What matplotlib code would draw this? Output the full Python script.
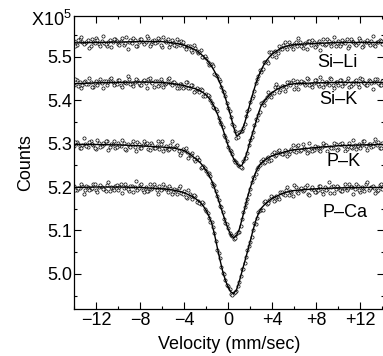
import numpy as np
import matplotlib
matplotlib.use("Agg")
import matplotlib.pyplot as plt
from matplotlib.ticker import MultipleLocator

plt.rcParams["font.family"] = ["Liberation Sans", "DejaVu Sans"]
plt.rcParams["mathtext.fontset"] = "custom"
plt.rcParams["mathtext.rm"] = "Liberation Sans"

# velocity channels (mm/sec); the two folded halves sit 0.125 mm/sec apart
vel_a = np.arange(113) * 0.25 - 14.0
vel_b = np.arange(112) * 0.25 - 13.875
# x positions of the fitted curves
fit_x = np.concatenate([[-14, -12, -10, -8, -6], np.arange(-5, 6.01, 0.25), [8, 10, 12, 14]])

# measured counts (x10^5), first half
si_li_a = [5.536, 5.528, 5.541, 5.534, 5.531, 5.539, 5.526, 5.535, 5.543, 5.530, 5.537, 5.532, 5.524,
           5.539, 5.534, 5.541, 5.530, 5.536, 5.528, 5.545, 5.535, 5.531, 5.538, 5.526, 5.540, 5.535,
           5.533, 5.544, 5.530, 5.538, 5.534, 5.540, 5.523, 5.536, 5.541, 5.530, 5.533, 5.525, 5.534,
           5.536, 5.525, 5.524, 5.525, 5.512, 5.521, 5.509, 5.515, 5.500, 5.497, 5.482, 5.484, 5.461,
           5.456, 5.444, 5.422, 5.410, 5.381, 5.362, 5.341, 5.314, 5.327, 5.329, 5.345, 5.374, 5.396,
           5.410, 5.440, 5.456, 5.465, 5.488, 5.490, 5.510, 5.503, 5.514, 5.508, 5.519, 5.527, 5.523,
           5.534, 5.524, 5.530, 5.524, 5.534, 5.520, 5.531, 5.537, 5.528, 5.533, 5.525, 5.536, 5.530,
           5.528, 5.541, 5.531, 5.534, 5.525, 5.537, 5.529, 5.533, 5.540, 5.526, 5.536, 5.530, 5.532,
           5.538, 5.524, 5.535, 5.531, 5.537, 5.528, 5.534, 5.539, 5.529]
si_k_a = [5.436, 5.446, 5.441, 5.435, 5.444, 5.438, 5.442, 5.431, 5.445, 5.441, 5.439, 5.445, 5.435,
          5.449, 5.442, 5.438, 5.446, 5.434, 5.443, 5.440, 5.450, 5.437, 5.441, 5.447, 5.436, 5.444,
          5.439, 5.448, 5.442, 5.431, 5.445, 5.435, 5.443, 5.437, 5.448, 5.439, 5.443, 5.437, 5.429,
          5.438, 5.430, 5.442, 5.428, 5.434, 5.422, 5.425, 5.425, 5.409, 5.414, 5.410, 5.393, 5.383,
          5.376, 5.349, 5.338, 5.315, 5.292, 5.284, 5.263, 5.258, 5.249, 5.244, 5.268, 5.279, 5.308,
          5.326, 5.356, 5.367, 5.393, 5.390, 5.408, 5.412, 5.416, 5.430, 5.430, 5.423, 5.433, 5.430,
          5.443, 5.439, 5.426, 5.445, 5.439, 5.443, 5.435, 5.449, 5.438, 5.440, 5.446, 5.432, 5.444,
          5.437, 5.441, 5.451, 5.434, 5.442, 5.436, 5.447, 5.440, 5.445, 5.431, 5.440, 5.445, 5.438,
          5.451, 5.443, 5.434, 5.447, 5.439, 5.442, 5.449, 5.436, 5.444]
p_k_a = [5.295, 5.303, 5.290, 5.297, 5.300, 5.292, 5.305, 5.296, 5.288, 5.301, 5.294, 5.299, 5.307,
         5.293, 5.298, 5.291, 5.302, 5.294, 5.302, 5.285, 5.295, 5.299, 5.292, 5.304, 5.290, 5.296,
         5.298, 5.287, 5.301, 5.290, 5.294, 5.288, 5.305, 5.291, 5.286, 5.297, 5.289, 5.295, 5.283,
         5.278, 5.286, 5.280, 5.273, 5.278, 5.261, 5.264, 5.243, 5.248, 5.236, 5.232, 5.209, 5.204,
         5.179, 5.156, 5.142, 5.116, 5.106, 5.089, 5.080, 5.092, 5.096, 5.126, 5.153, 5.172, 5.196,
         5.223, 5.231, 5.245, 5.260, 5.255, 5.267, 5.259, 5.276, 5.271, 5.283, 5.278, 5.275, 5.283,
         5.275, 5.288, 5.284, 5.294, 5.284, 5.298, 5.287, 5.281, 5.290, 5.285, 5.293, 5.286, 5.292,
         5.296, 5.283, 5.293, 5.290, 5.299, 5.287, 5.298, 5.294, 5.287, 5.301, 5.291, 5.297, 5.295,
         5.289, 5.306, 5.295, 5.299, 5.293, 5.302, 5.296, 5.291, 5.301]
p_ca_a = [5.202, 5.192, 5.197, 5.203, 5.194, 5.200, 5.196, 5.207, 5.193, 5.199, 5.201, 5.195, 5.205,
          5.191, 5.198, 5.202, 5.194, 5.206, 5.197, 5.200, 5.190, 5.203, 5.199, 5.193, 5.204, 5.194,
          5.199, 5.190, 5.196, 5.207, 5.193, 5.203, 5.195, 5.200, 5.189, 5.198, 5.188, 5.192, 5.197,
          5.186, 5.191, 5.174, 5.183, 5.172, 5.179, 5.168, 5.160, 5.164, 5.144, 5.128, 5.120, 5.093,
          5.056, 5.037, 5.003, 4.985, 4.973, 4.953, 4.957, 4.960, 4.981, 5.011, 5.024, 5.055, 5.073,
          5.101, 5.114, 5.142, 5.146, 5.165, 5.161, 5.169, 5.176, 5.169, 5.176, 5.189, 5.185, 5.192,
          5.182, 5.189, 5.204, 5.189, 5.195, 5.191, 5.199, 5.185, 5.196, 5.194, 5.188, 5.202, 5.190,
          5.200, 5.196, 5.186, 5.203, 5.195, 5.201, 5.190, 5.197, 5.192, 5.206, 5.200, 5.195, 5.202,
          5.189, 5.197, 5.206, 5.193, 5.201, 5.198, 5.191, 5.204, 5.196]

# measured counts (x10^5), second half
si_li_b = [5.524, 5.539, 5.545, 5.529, 5.535, 5.520, 5.541, 5.532, 5.538, 5.526, 5.547, 5.530, 5.533,
           5.523, 5.541, 5.537, 5.528, 5.544, 5.532, 5.519, 5.538, 5.543, 5.526, 5.535, 5.540, 5.530,
           5.548, 5.525, 5.537, 5.532, 5.543, 5.528, 5.546, 5.534, 5.522, 5.539, 5.528, 5.540, 5.528,
           5.535, 5.518, 5.526, 5.515, 5.528, 5.513, 5.512, 5.499, 5.502, 5.489, 5.484, 5.478, 5.458,
           5.449, 5.430, 5.418, 5.393, 5.375, 5.346, 5.329, 5.316, 5.328, 5.335, 5.364, 5.380, 5.406,
           5.422, 5.450, 5.469, 5.473, 5.487, 5.486, 5.511, 5.512, 5.500, 5.525, 5.518, 5.535, 5.519,
           5.528, 5.519, 5.535, 5.544, 5.526, 5.530, 5.519, 5.536, 5.539, 5.523, 5.532, 5.516, 5.540,
           5.529, 5.536, 5.524, 5.545, 5.531, 5.526, 5.539, 5.532, 5.520, 5.540, 5.535, 5.527, 5.543,
           5.523, 5.534, 5.538, 5.528, 5.547, 5.525, 5.533, 5.537]
si_k_b = [5.448, 5.433, 5.427, 5.443, 5.437, 5.452, 5.431, 5.440, 5.434, 5.448, 5.427, 5.444, 5.441,
          5.452, 5.434, 5.438, 5.447, 5.431, 5.443, 5.456, 5.437, 5.432, 5.449, 5.440, 5.435, 5.446,
          5.428, 5.451, 5.439, 5.444, 5.433, 5.448, 5.430, 5.440, 5.452, 5.435, 5.442, 5.428, 5.437,
          5.428, 5.441, 5.428, 5.435, 5.418, 5.427, 5.420, 5.424, 5.410, 5.411, 5.400, 5.385, 5.380,
          5.360, 5.346, 5.321, 5.306, 5.285, 5.276, 5.257, 5.251, 5.245, 5.261, 5.268, 5.296, 5.315,
          5.342, 5.355, 5.372, 5.395, 5.401, 5.418, 5.408, 5.417, 5.437, 5.419, 5.432, 5.421, 5.441,
          5.435, 5.446, 5.435, 5.426, 5.444, 5.440, 5.451, 5.434, 5.431, 5.447, 5.438, 5.454, 5.430,
          5.443, 5.436, 5.448, 5.427, 5.441, 5.446, 5.433, 5.440, 5.452, 5.433, 5.438, 5.446, 5.430,
          5.450, 5.439, 5.435, 5.445, 5.426, 5.448, 5.440, 5.436]
p_k_b = [5.303, 5.299, 5.291, 5.313, 5.294, 5.304, 5.300, 5.289, 5.309, 5.293, 5.301, 5.306, 5.286,
         5.298, 5.305, 5.292, 5.297, 5.309, 5.288, 5.300, 5.293, 5.306, 5.282, 5.298, 5.289, 5.305,
         5.302, 5.285, 5.296, 5.289, 5.307, 5.298, 5.284, 5.294, 5.287, 5.305, 5.287, 5.296, 5.274,
         5.288, 5.289, 5.268, 5.274, 5.264, 5.270, 5.262, 5.246, 5.244, 5.231, 5.226, 5.203, 5.191,
         5.169, 5.153, 5.127, 5.114, 5.095, 5.088, 5.082, 5.096, 5.111, 5.143, 5.164, 5.185, 5.212,
         5.221, 5.242, 5.250, 5.264, 5.257, 5.270, 5.263, 5.280, 5.274, 5.286, 5.275, 5.286, 5.271,
         5.284, 5.297, 5.281, 5.296, 5.285, 5.290, 5.278, 5.301, 5.283, 5.294, 5.293, 5.284, 5.301,
         5.296, 5.277, 5.290, 5.302, 5.286, 5.298, 5.302, 5.284, 5.295, 5.292, 5.309, 5.288, 5.300,
         5.297, 5.306, 5.285, 5.300, 5.294, 5.310, 5.304, 5.289]
p_ca_b = [5.194, 5.198, 5.206, 5.184, 5.203, 5.193, 5.197, 5.208, 5.188, 5.204, 5.196, 5.191, 5.211,
          5.199, 5.192, 5.205, 5.200, 5.186, 5.207, 5.195, 5.202, 5.189, 5.213, 5.197, 5.206, 5.188,
          5.191, 5.208, 5.197, 5.201, 5.183, 5.192, 5.206, 5.196, 5.203, 5.185, 5.195, 5.183, 5.202,
          5.185, 5.178, 5.192, 5.179, 5.181, 5.165, 5.163, 5.165, 5.150, 5.141, 5.120, 5.108, 5.075,
          5.048, 5.016, 4.999, 4.975, 4.964, 4.951, 4.959, 4.971, 4.996, 5.012, 5.038, 5.065, 5.084,
          5.116, 5.128, 5.146, 5.148, 5.167, 5.163, 5.179, 5.168, 5.180, 5.172, 5.188, 5.182, 5.200,
          5.190, 5.180, 5.201, 5.186, 5.197, 5.192, 5.204, 5.181, 5.199, 5.188, 5.193, 5.202, 5.185,
          5.193, 5.212, 5.199, 5.187, 5.203, 5.194, 5.190, 5.208, 5.197, 5.200, 5.185, 5.206, 5.194,
          5.200, 5.191, 5.212, 5.197, 5.203, 5.187, 5.193, 5.208]

# fitted curves
si_li_fit = [5.532, 5.533, 5.534, 5.535, 5.535,
             5.532, 5.531, 5.530, 5.528, 5.527, 5.524, 5.522, 5.519, 5.516, 5.512, 5.507, 5.501,
             5.495, 5.487, 5.478, 5.467, 5.455, 5.440, 5.424, 5.405, 5.384, 5.362, 5.338, 5.318,
             5.321, 5.330, 5.348, 5.370, 5.394, 5.416, 5.437, 5.455, 5.470, 5.482, 5.492, 5.500,
             5.507, 5.511, 5.515, 5.519, 5.522, 5.524, 5.526, 5.527, 5.528,
             5.531, 5.533, 5.533, 5.533]
si_k_fit = [5.438, 5.440, 5.441, 5.442, 5.441,
            5.438, 5.437, 5.436, 5.435, 5.434, 5.432, 5.430, 5.428, 5.427, 5.424, 5.421, 5.417,
            5.412, 5.405, 5.396, 5.384, 5.370, 5.353, 5.335, 5.315, 5.295, 5.279, 5.265, 5.255,
            5.248, 5.250, 5.264, 5.283, 5.306, 5.327, 5.348, 5.370, 5.388, 5.397, 5.405, 5.412,
            5.418, 5.422, 5.426, 5.429, 5.432, 5.434, 5.436, 5.437, 5.438,
            5.440, 5.441, 5.441, 5.441]
p_k_fit = [5.298, 5.298, 5.297, 5.295, 5.292,
           5.290, 5.289, 5.287, 5.286, 5.284, 5.280, 5.276, 5.271, 5.266, 5.261, 5.255, 5.247,
           5.238, 5.227, 5.215, 5.198, 5.180, 5.160, 5.140, 5.121, 5.103, 5.089, 5.083, 5.088,
           5.102, 5.125, 5.150, 5.176, 5.198, 5.217, 5.234, 5.246, 5.255, 5.261, 5.265, 5.269,
           5.272, 5.274, 5.276, 5.278, 5.280, 5.282, 5.283, 5.285, 5.286,
           5.291, 5.295, 5.297, 5.298]
p_ca_fit = [5.199, 5.200, 5.200, 5.199, 5.196,
            5.193, 5.192, 5.190, 5.189, 5.187, 5.184, 5.181, 5.178, 5.174, 5.169, 5.164, 5.156,
            5.146, 5.133, 5.117, 5.092, 5.062, 5.033, 5.006, 4.985, 4.969, 4.958, 4.955, 4.963,
            4.982, 5.005, 5.028, 5.051, 5.075, 5.100, 5.122, 5.139, 5.151, 5.158, 5.164, 5.169,
            5.174, 5.177, 5.180, 5.183, 5.186, 5.188, 5.189, 5.191, 5.192,
            5.196, 5.198, 5.199, 5.199]

labels = ["Si\u2013Li", "Si\u2013K", "P\u2013K", "P\u2013Ca"]
label_x = [9.9, 10.0, 10.45, 10.6]
label_y = [5.486, 5.401, 5.258, 5.141]

xticks = [-12, -8, -4, 0, 4, 8, 12]
xtick_labels = ["\u221212", "\u22128", "\u22124", "0", "+4", "+8", "+12"]
yticks = [5.0, 5.1, 5.2, 5.3, 5.4, 5.5]

FS = 13

fig = plt.figure(figsize=(3.83, 3.56), dpi=100)
ax = fig.add_axes([74 / 383, 47 / 356, 310 / 383, 293 / 356])

spectra = [(si_li_a, si_li_b, si_li_fit), (si_k_a, si_k_b, si_k_fit),
           (p_k_a, p_k_b, p_k_fit), (p_ca_a, p_ca_b, p_ca_fit)]
for pts_a, pts_b, fit in spectra:
    for v, pts in ((vel_a, pts_a), (vel_b, pts_b)):
        ax.plot(v, pts, "o", ms=2.3, mfc="white", mec="black", mew=0.5, zorder=2)
    ax.plot(fit_x, fit, "-", color="black", lw=1.0, zorder=3)

for name, lx, ly in zip(labels, label_x, label_y):
    ax.text(lx, ly, name, ha="center", va="center", fontsize=FS,
            bbox=dict(facecolor="white", edgecolor="none", pad=0.5), zorder=4)

ax.set_xlim(-14.0, 14.15)
ax.set_ylim(4.919, 5.594)
ax.set_xticks(xticks)
ax.set_xticklabels(xtick_labels)
ax.set_yticks(yticks)
ax.set_yticklabels([f"{v:.1f}" for v in yticks])
ax.xaxis.set_minor_locator(MultipleLocator(2))
ax.yaxis.set_minor_locator(MultipleLocator(0.05))
ax.tick_params(which="both", direction="in", top=True, right=True, labelsize=FS, width=0.8)
ax.tick_params(which="major", length=5)
ax.tick_params(which="minor", length=2.5)
ax.tick_params(axis="x", pad=2)
ax.tick_params(axis="y", pad=1.5)
for sp in ax.spines.values():
    sp.set_linewidth(0.9)

ax.set_xlabel("Velocity (mm/sec)", fontsize=FS, labelpad=5)
ax.set_ylabel("Counts", fontsize=FS, labelpad=9)
fig.text(31 / 383, 1 - 26 / 356, "X10$^{5}$", fontsize=FS, ha="left", va="baseline")

fig.savefig("out.png", dpi=100)
